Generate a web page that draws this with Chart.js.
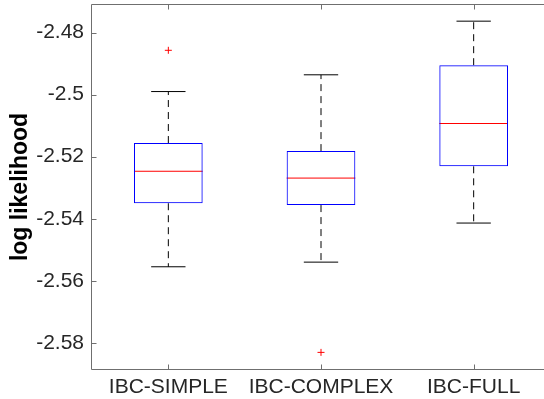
<!DOCTYPE html>
<html>
<head>
<meta charset="utf-8">
<script src="https://cdn.jsdelivr.net/npm/chart.js@4.4.1/dist/chart.umd.min.js"></script>
<style>
  html, body { margin: 0; padding: 0; background: #fff; overflow: hidden; }
  #wrap { width: 560px; height: 399px; }
</style>
</head>
<body>
<div id="wrap"><canvas id="boxChart" width="560" height="399"></canvas></div>
<script>
// values
const categories = ["IBC-SIMPLE", "IBC-COMPLEX", "IBC-FULL"];
const q1 = [-2.535, -2.5356, -2.5231];
const medians = [-2.5247, -2.5269, -2.5093];
const q3 = [-2.5156, -2.5182, -2.4905];
const whiskerLow = [-2.5555, -2.554, -2.5414];
const whiskerHigh = [-2.499, -2.4936, -2.4763];
const outliers = [[-2.4857], [-2.5831], []];
const yTicks = [-2.58, -2.56, -2.54, -2.52, -2.5, -2.48];
const yMin = -2.58846;
const yMax = -2.47109;

const BOX_HALF = 0.225;
const CAP_HALF = 0.1125;
const FONT = "'Liberation Sans', Arial, Helvetica, sans-serif";
const TEXT = "#262626";

// one small line dataset per segment
function seg(x1, y1, x2, y2, color, dash) {
  return {
    type: "line",
    data: [{ x: x1, y: y1 }, { x: x2, y: y2 }],
    borderColor: color,
    backgroundColor: color,
    borderWidth: 1,
    borderDash: dash || [],
    pointRadius: 0,
    fill: false,
    tension: 0,
  };
}

const segDatasets = [];
categories.forEach((c, i) => {
  const cx = i + 1;
  // whiskers
  segDatasets.push(seg(cx, q3[i], cx, whiskerHigh[i], "#000000", [7, 5]));
  segDatasets.push(seg(cx, q1[i], cx, whiskerLow[i], "#000000", [7, 5]));
  // caps
  segDatasets.push(seg(cx - CAP_HALF, whiskerHigh[i], cx + CAP_HALF, whiskerHigh[i], "#000000"));
  segDatasets.push(seg(cx - CAP_HALF, whiskerLow[i], cx + CAP_HALF, whiskerLow[i], "#000000"));
});
// medians last so nothing paints over them
categories.forEach((c, i) => {
  segDatasets.push(seg(i + 1 - BOX_HALF, medians[i], i + 1 + BOX_HALF, medians[i], "#ff0000"));
});

const outlierPts = outliers.flatMap((vals, i) =>
  vals.map((v) => ({ x: i + 1, y: v }))
);

// matlab style frame with inward ticks
const matlabAxes = {
  id: "matlabAxes",
  afterDraw(chart) {
    const { ctx, chartArea: a, scales } = chart;
    const L = Math.round(a.left) - 0.5;
    const T = Math.round(a.top) - 0.5;
    const B = Math.round(a.bottom) + 0.5;
    const R = Math.round(a.right) + 0.5;
    ctx.save();
    ctx.setLineDash([]);
    ctx.strokeStyle = "#6f6f6f";
    ctx.lineWidth = 1;
    ctx.beginPath();
    ctx.moveTo(L, T);
    ctx.lineTo(L, B);
    ctx.lineTo(R, B);
    ctx.lineTo(R, T);
    ctx.lineTo(L, T);
    yTicks.forEach((v) => {
      const py = Math.round(scales.y.getPixelForValue(v)) + 0.5;
      ctx.moveTo(L, py);
      ctx.lineTo(L + 5, py);
      ctx.moveTo(R, py);
      ctx.lineTo(R - 5, py);
    });
    scales.x.ticks.forEach((t) => {
      const px = Math.round(scales.x.getPixelForValue(t.value)) + 0.5;
      ctx.moveTo(px, B);
      ctx.lineTo(px, B - 5);
      ctx.moveTo(px, T);
      ctx.lineTo(px, T + 5);
    });
    ctx.stroke();
    ctx.restore();
  },
};

new Chart(document.getElementById("boxChart"), {
  type: "bar",
  data: {
    datasets: [
      {
        label: "box",
        data: categories.map((c, i) => ({ x: i + 1, y: [q1[i], q3[i]] })),
        backgroundColor: "rgba(0,0,0,0)",
        borderColor: "#0000ff",
        borderWidth: 1,
        borderSkipped: false,
        barPercentage: 0.45,
        categoryPercentage: 1,
        grouped: false,
      },
      ...segDatasets,
      {
        type: "scatter",
        label: "outlier",
        data: outlierPts,
        pointStyle: "cross",
        pointRadius: 3.5,
        borderColor: "#ff0000",
        backgroundColor: "#ff0000",
        borderWidth: 1,
      },
    ],
  },
  options: {
    responsive: false,
    animation: false,
    layout: { padding: { top: 4, right: 10, left: 0, bottom: 0 } },
    plugins: { legend: { display: false }, tooltip: { enabled: false } },
    scales: {
      x: {
        type: "linear",
        min: 0.5,
        max: 3.5,
        offset: false,
        afterBuildTicks: (s) => {
          s.ticks = categories.map((c, i) => ({ value: i + 1 }));
        },
        afterFit: (s) => {
          s.height = 30;
          s.paddingLeft = 0;
          s.paddingRight = 0;
        },
        grid: { display: false, drawTicks: false },
        border: { display: false },
        ticks: {
          callback: (v, i) => categories[i],
          font: { family: FONT, size: 21 },
          color: TEXT,
          padding: 6,
          maxRotation: 0,
          autoSkip: false,
        },
      },
      y: {
        type: "linear",
        min: yMin,
        max: yMax,
        afterBuildTicks: (s) => {
          s.ticks = yTicks.map((v) => ({ value: v }));
        },
        afterFit: (s) => {
          s.width = 92;
          s.paddingTop = 0;
          s.paddingBottom = 0;
        },
        grid: { display: false, drawTicks: false },
        border: { display: false },
        ticks: {
          callback: (v) => String(Math.round(v * 100) / 100),
          font: { family: FONT, size: 21 },
          color: TEXT,
          padding: 8,
        },
        title: {
          display: true,
          text: "log likelihood",
          font: { family: FONT, size: 23, weight: "bold" },
          color: "#000",
          padding: { top: 7, bottom: 0 },
        },
      },
    },
  },
  plugins: [matlabAxes],
});
</script>
</body>
</html>
